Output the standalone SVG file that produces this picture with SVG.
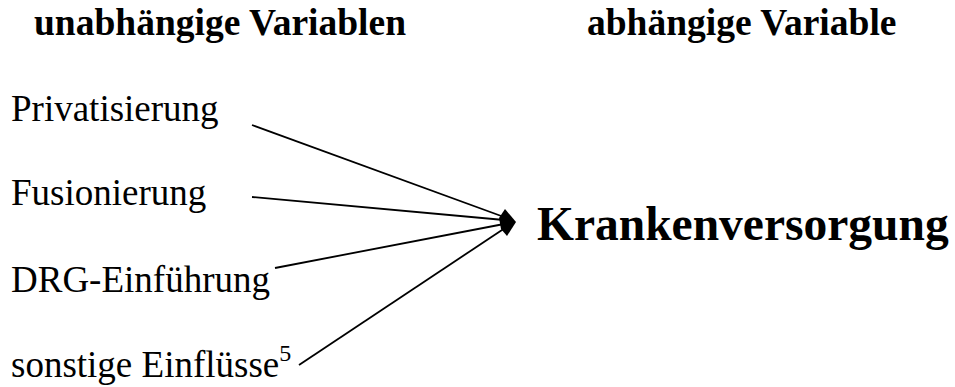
<svg xmlns="http://www.w3.org/2000/svg" width="955" height="387" viewBox="0 0 955 387">
<style>
.h{font-family:"Liberation Serif","Times New Roman",serif;font-weight:bold;font-size:37.5px;fill:#000}
.t{font-family:"Liberation Serif","Times New Roman",serif;font-size:37px;fill:#000}
.big{font-family:"Liberation Serif","Times New Roman",serif;font-weight:bold;font-size:47.5px;fill:#000}
.c{stroke:#000;stroke-width:1.8;fill:none}
</style>
<rect width="955" height="387" fill="#fff"/>
<g id="header-left"><text class="h" x="34" y="35">unabhängige Variablen</text></g>
<g id="header-right"><text class="h" x="587" y="35">abhängige Variable</text></g>
<g id="privatisierung"><text class="t" x="11" y="121">Privatisierung</text></g>
<g id="fusionierung"><text class="t" x="11" y="205">Fusionierung</text></g>
<g id="drg"><text class="t" x="11" y="292">DRG-Einführung</text></g>
<g id="sonstige"><text class="t" x="11" y="377">sonstige Einflüsse<tspan font-size="24" dy="-16">5</tspan></text></g>
<g id="krankenversorgung"><text class="big" x="537" y="240">Krankenversorgung</text></g>
<g id="connectors">
<line class="c" x1="252" y1="125" x2="504" y2="217"/>
<line class="c" x1="252" y1="197" x2="504" y2="220"/>
<line class="c" x1="275" y1="268" x2="504" y2="224"/>
<line class="c" x1="299" y1="365" x2="505" y2="228"/>
<polygon points="499,218 505,209 516,222 507,236 501,229" fill="#000"/>
</g>
</svg>
